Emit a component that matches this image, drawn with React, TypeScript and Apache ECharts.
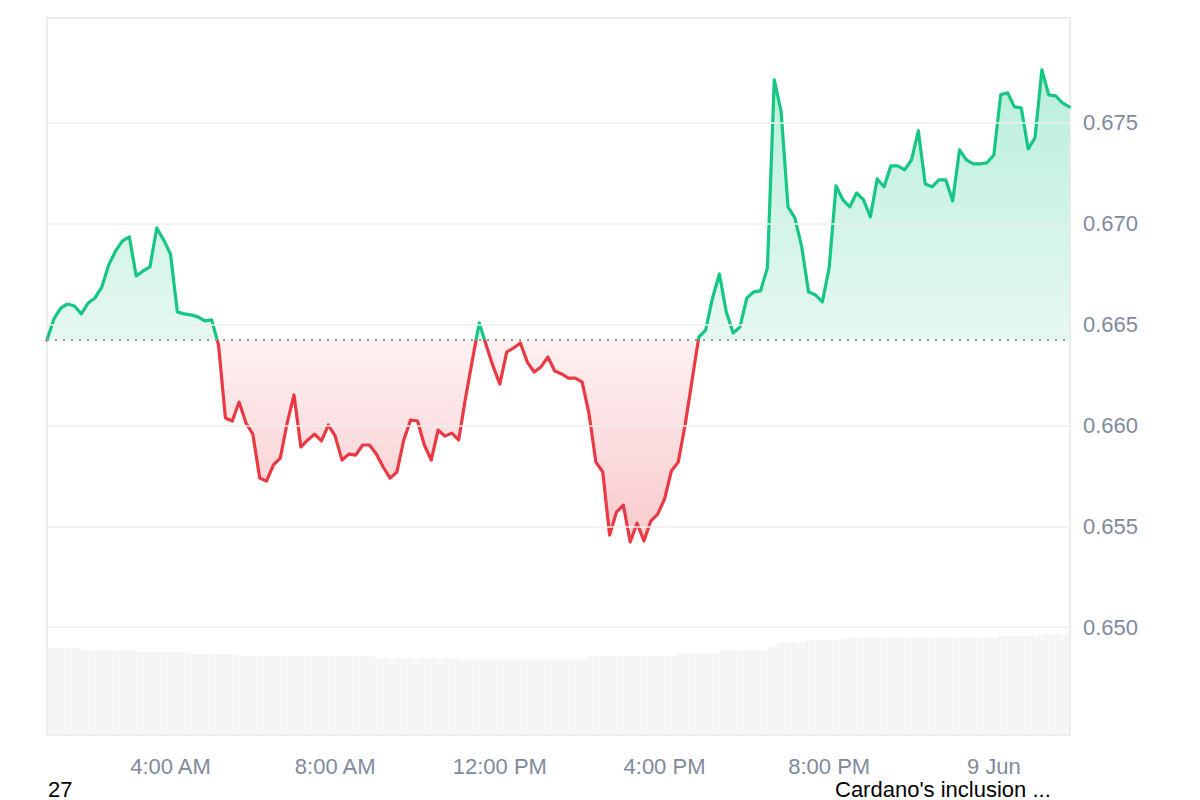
import React, { useEffect, useRef } from "react";
import * as echarts from "echarts";

// ADA price, one reading every 10 minutes starting 01:00 (8 Jun)
const prices = [
  0.66424, 0.66528, 0.66582, 0.66602, 0.66592, 0.66553, 0.66607, 0.66632, 0.66687, 0.66796,
  0.66865, 0.66915, 0.66935, 0.66741, 0.66766, 0.66786, 0.66979, 0.6692, 0.6685, 0.66563,
  0.66553, 0.66548, 0.66538, 0.66518, 0.66523, 0.66399, 0.66037, 0.66022, 0.66116, 0.66012,
  0.65957, 0.65739, 0.65724, 0.65804, 0.65838, 0.66012, 0.66151, 0.65893, 0.65928, 0.65957,
  0.65923, 0.66002, 0.65947, 0.65828, 0.65858, 0.65853, 0.65903, 0.65903, 0.65858, 0.65794,
  0.65739, 0.65769, 0.65928, 0.66027, 0.66022, 0.65903, 0.65828, 0.65977, 0.65947, 0.65962,
  0.65928, 0.66136, 0.66324, 0.66508, 0.66399, 0.66295, 0.66205, 0.66364, 0.66384, 0.66409,
  0.66314, 0.66265, 0.6629, 0.66339, 0.6627, 0.66255, 0.66235, 0.66235, 0.66215, 0.66057,
  0.65818, 0.65769, 0.65456, 0.6557, 0.65605, 0.65422, 0.65516, 0.65427, 0.65526, 0.6556,
  0.65635, 0.65774, 0.65818, 0.66002, 0.6622, 0.66438, 0.66473, 0.66632, 0.66751, 0.66563,
  0.66458, 0.66488, 0.66632, 0.66662, 0.66667, 0.66781, 0.67713, 0.67555, 0.67083, 0.67029,
  0.66885, 0.66662, 0.66647, 0.66612, 0.66781, 0.67188, 0.67118, 0.67083, 0.67153, 0.67118,
  0.67034, 0.67222, 0.67183, 0.67287, 0.67287, 0.67267, 0.67316, 0.6746, 0.67197, 0.67183,
  0.67217, 0.67217, 0.67113, 0.67366, 0.67316, 0.67297, 0.67297, 0.67302, 0.67341, 0.67639,
  0.67649, 0.67579, 0.67574, 0.67371, 0.67426, 0.67763, 0.67639, 0.67634, 0.67599, 0.67579,
];
const firstHour = 1; // 01:00
const hoursPerPoint = 1 / 6;
const axisEndHour = 25.85;

const xTickHours = [4, 8, 12, 16, 20, 24];
const xTickLabels = ["4:00 AM", "8:00 AM", "12:00 PM", "4:00 PM", "8:00 PM", "9 Jun"];
const yTickValues = [0.65, 0.655, 0.66, 0.665, 0.67, 0.675];

// volume ($M) : [value, number of consecutive bars]
const volumeSteps: [number, number][] = [
  [291, 11], [285, 18], [278, 18], [271, 17], [264, 45], [258, 28], [254, 43], [264, 30],
  [274, 14], [285, 17], [298, 2], [311, 10], [318, 12], [325, 52], [331, 13], [338, 11],
];

const footerLeft = "27";
const footerRight = "Cardano's inclusion ...";

const GREEN = "#16c784";
const RED = "#ea3943";
const GRAY = "#808a9d";
const FONT = "'Liberation Sans', Arial, Helvetica, sans-serif";

export default function App() {
  const ref = useRef<HTMLDivElement>(null);
  useEffect(() => {
    const chart = echarts.init(ref.current!, null, { renderer: "svg" });
    const base = prices[0];
    const pts = prices.map((v, i) => [firstHour + i * hoursPerPoint, v]);
    const upPts = pts.map(([x, v]) => [x, Math.max(v, base)]);
    const downPts = pts.map(([x, v]) => [x, Math.min(v, base)]);
    const volumes: number[] = [];
    volumeSteps.forEach(([v, n]) => {
      for (let i = 0; i < n; i++) volumes.push(v);
    });

    chart.setOption({
      animation: false,
      grid: [
        { left: 47, right: 130, top: 22, bottom: 72 },
        {
          left: 47, right: 130, top: 18, bottom: 65, show: true,
          borderColor: "#ececec", borderWidth: 2, backgroundColor: "transparent",
        },
      ],
      xAxis: [
        {
          type: "value", gridIndex: 0, min: firstHour, max: axisEndHour, interval: 1,
          axisLine: { show: false }, axisTick: { show: false }, splitLine: { show: false },
          axisLabel: {
            margin: 27, fontSize: 22, color: GRAY, fontFamily: FONT,
            formatter: (v: number) => {
              const i = xTickHours.findIndex((h) => Math.abs(h - v) < 1e-6);
              return i >= 0 ? xTickLabels[i] : "";
            },
          },
        },
        { type: "category", gridIndex: 1, data: volumes.map((_, i) => i), show: false },
      ],
      yAxis: [
        {
          type: "value", gridIndex: 0, position: "right", min: 0.645, max: 0.68, interval: 0.005,
          axisLine: { show: false }, axisTick: { show: false }, splitLine: { show: false },
          axisLabel: {
            margin: 13, fontSize: 22, color: GRAY, fontFamily: FONT,
            formatter: (v: number) =>
              yTickValues.some((t) => Math.abs(t - v) < 1e-7) ? v.toFixed(3) : "",
          },
        },
        { type: "value", gridIndex: 1, min: 0, max: 2400, show: false },
      ],
      visualMap: {
        show: false, type: "piecewise", seriesIndex: 3, dimension: 1,
        pieces: [
          { gt: base, lte: 1, color: GREEN },
          { gt: 0, lte: base, color: RED },
        ],
        outOfRange: { color: GREEN },
      },
      series: [
        {
          type: "bar", xAxisIndex: 1, yAxisIndex: 1, data: volumes, barWidth: "66%",
          itemStyle: { color: "#eef0f4" }, silent: true, z: 1,
        },
        {
          type: "line", xAxisIndex: 0, yAxisIndex: 0, data: upPts, symbol: "none",
          lineStyle: { width: 0, opacity: 0 }, silent: true, z: 2,
          areaStyle: {
            origin: base,
            color: new echarts.graphic.LinearGradient(0, 0, 0, 1, [
              { offset: 0, color: "rgba(22,199,132,0.30)" },
              { offset: 1, color: "rgba(22,199,132,0.11)" },
            ]),
            opacity: 1,
          },
          markLine: {
            silent: true, symbol: "none", label: { show: false }, precision: 6,
            lineStyle: { color: "#eeeeee", width: 1.5, type: "solid" },
            data: yTickValues.map((v) => ({ yAxis: v })),
          },
        },
        {
          type: "line", xAxisIndex: 0, yAxisIndex: 0, data: downPts, symbol: "none",
          lineStyle: { width: 0, opacity: 0 }, silent: true, z: 3,
          areaStyle: {
            origin: base,
            color: new echarts.graphic.LinearGradient(0, 0, 0, 1, [
              { offset: 0, color: "rgba(234,57,67,0.07)" },
              { offset: 1, color: "rgba(234,57,67,0.27)" },
            ]),
            opacity: 1,
          },
          markLine: {
            silent: true, symbol: "none", label: { show: false }, precision: 6,
            lineStyle: { color: "#999999", width: 2, type: [2, 6], opacity: 1 },
            data: [{ yAxis: base }],
          },
        },
        {
          type: "line", xAxisIndex: 0, yAxisIndex: 0, data: pts, symbol: "none",
          lineStyle: { width: 3.2, cap: "round", join: "round" }, silent: true, z: 4,
        },
      ],
      graphic: [
        {
          type: "text", left: 48, top: 778,
          style: { text: footerLeft, font: `22px ${FONT}`, fill: "#000" },
        },
        {
          type: "text", left: 835, top: 778,
          style: { text: footerRight, font: `22px ${FONT}`, fill: "#000" },
        },
      ],
    });
    return () => chart.dispose();
  }, []);
  return (
    <div
      ref={ref}
      style={{ position: "fixed", left: 0, top: 0, width: 1200, height: 800, background: "#fff" }}
    />
  );
}
